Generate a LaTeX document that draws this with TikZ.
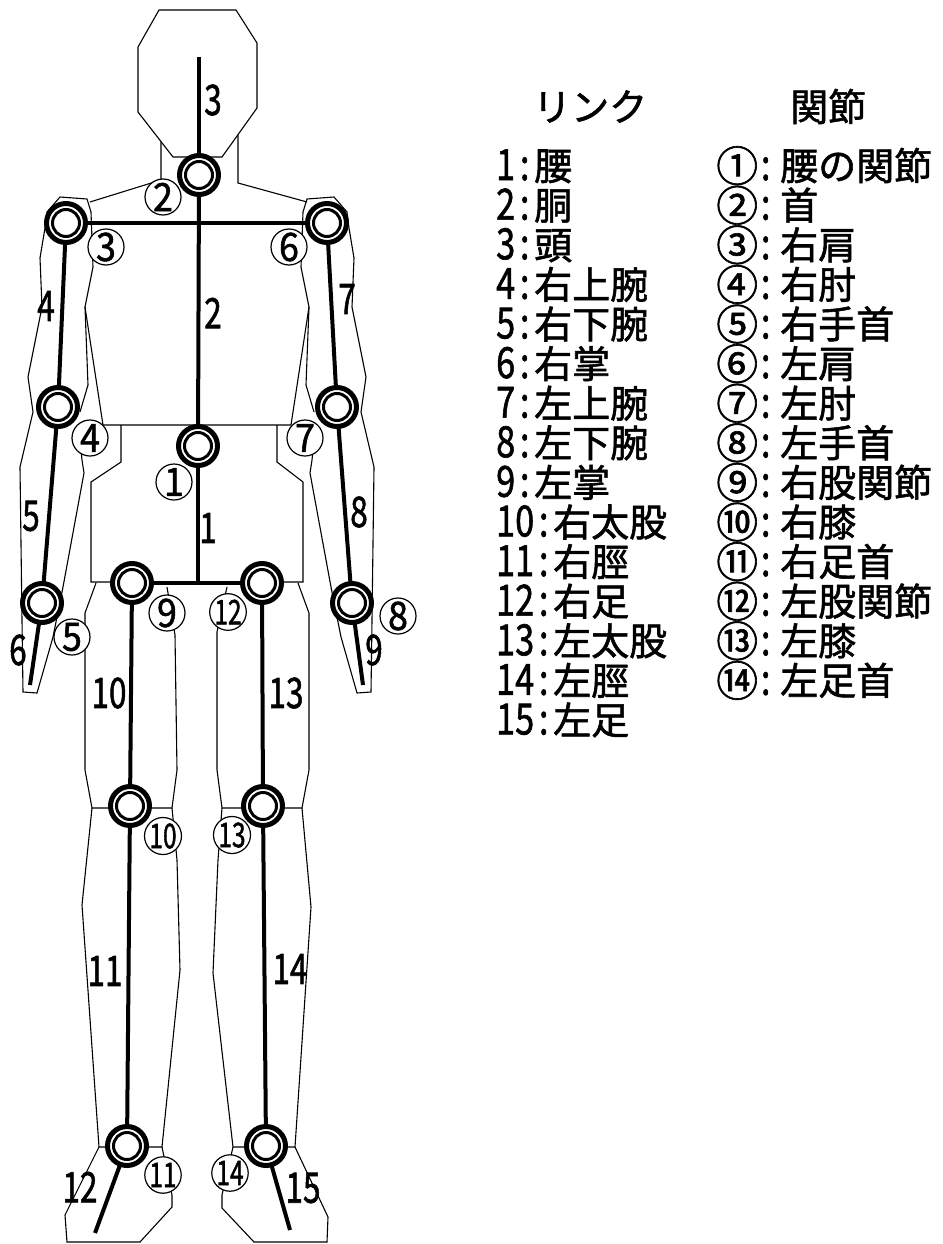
\documentclass[tikz,border=0pt]{standalone}
\usepackage{fontspec}
\usepackage{graphicx}
\setmainfont{Noto Sans CJK JP}[FakeBold=1.5]
% half-width cell with tall, narrow digits (legend)
\newcommand\hw[1]{\makebox[0.5em][c]{\scalebox{0.9}[1.13]{#1}}}
% half-width cell for the link numbers on the figure
\newcommand\hl[1]{\makebox[0.5em][c]{\scalebox{0.9}[1.2]{#1}}}
% two digits squeezed into a circle
\newcommand\dd[1]{\scalebox{0.72}[1.0]{#1}}
% one digit in a circle
\newcommand\sd[1]{\scalebox{1.05}[1.15]{#1}}
% enlarged circled numeral in a full-width cell
\newcommand\cn[1]{\makebox[1em][c]{\raisebox{-0.04em}{\scalebox{1.1}{#1}}}}
\pgfdeclarelayer{bg}
\pgfsetlayers{bg,main}
\begin{document}
\begin{tikzpicture}[x=1pt,y=-1pt,
  outline/.style={line width=1.1pt,line join=miter},
  link/.style={line width=4pt},
  joint/.style={circle,draw,fill=white,line width=5pt,minimum size=39pt,inner sep=0pt,
    path picture={\draw[line width=3pt] (path picture bounding box.center) circle[radius=13.5pt];}},
  linklbl/.style={inner sep=0pt,font=\fontsize{35}{35}\selectfont},
  jointlbl/.style={circle,draw,fill=white,line width=1.2pt,minimum size=36pt,inner sep=0pt,font=\fontsize{34}{34}\selectfont},
  listtxt/.style={anchor=base west,inner sep=0pt,font=\fontsize{38}{38}\selectfont}]
\useasboundingbox (0,0) rectangle (942,1244);

% joints
\node[joint] (j2) at (199,175) {};
\node[joint] (j3) at (66,223) {};
\node[joint] (j6) at (327,223) {};
\node[joint] (j4) at (58,407) {};
\node[joint] (j7) at (337,407) {};
\node[joint] (j1) at (198,446) {};
\node[joint] (j5) at (42,603) {};
\node[joint] (j8) at (352,603) {};
\node[joint] (j9) at (132,583) {};
\node[joint] (j12) at (262,583) {};
\node[joint] (j10) at (130,806) {};
\node[joint] (j13) at (263,806) {};
\node[joint] (j11) at (127,1146) {};
\node[joint] (j14) at (266,1146) {};

% free ends of the end links
\coordinate (headtop) at (199,57);
\coordinate (rhand) at (30,685);
\coordinate (lhand) at (363,685);
\coordinate (rfoot) at (95,1233);
\coordinate (lfoot) at (290,1230);

\begin{pgfonlayer}{bg}
% body outline
\draw[outline] (173,157) -- (138,112) -- (138,47) -- (159,10) -- (236,10) -- (257,43) -- (257,108) -- (222,157) -- cycle;
\draw[outline] (161,142) -- (161,180) -- (90,202);
\draw[outline] (238,135) -- (238,183) -- (307,202);
% right arm (viewer's left)
\draw[outline] (91,212) -- (87,199) -- (60,197) -- (47,212) -- (45,228) -- (40,258) -- (42,307) -- (28,377) -- (33,412)
  -- (20,467) -- (22,620) -- (23,692) -- (37,693) -- (53,637) -- (63,587) -- (84,473) -- (82,460) -- (80,440);
\draw[outline] (91,212) -- (93,267) -- (85,307) -- (88,385) -- (80,412);
% left arm (viewer's right)
\draw[outline] (303,212) -- (307,199) -- (334,197) -- (347,212) -- (349,228) -- (354,258) -- (352,307) -- (366,377) -- (361,412)
  -- (374,467) -- (372,620) -- (371,692) -- (357,693) -- (341,637) -- (331,587) -- (310,473) -- (312,460) -- (314,440);
\draw[outline] (303,212) -- (301,267) -- (309,307) -- (306,385) -- (314,412);
% chest and pelvis
\draw[outline] (85,307) -- (103,425) -- (291,425) -- (309,307);
\draw[outline] (121,425) -- (121,462) -- (91,482) -- (91,582) -- (112,582);
\draw[outline] (277,425) -- (277,462) -- (303,482) -- (303,582) -- (284,582);
% thighs
\draw[outline] (96,583) -- (85,613) -- (85,770) -- (92,808) -- (172,808) -- (177,770) -- (175,635) -- (167,587);
\draw[outline] (298,583) -- (309,613) -- (309,770) -- (302,808) -- (222,808) -- (217,770) -- (217,632) -- (227,587);
% shins
\draw[outline] (92,808) -- (82,905) -- (99,1147) -- (162,1147) -- (180,970) -- (177,860) -- (172,808);
\draw[outline] (302,808) -- (311,907) -- (295,1147) -- (233,1147) -- (213,973) -- (218,860) -- (222,808);
% feet
\draw[outline] (99,1147) -- (65,1215) -- (67,1242) -- (140,1242) -- (172,1207) -- (172,1195) -- (162,1147);
\draw[outline] (295,1147) -- (328,1217) -- (327,1242) -- (254,1242) -- (222,1208) -- (222,1195) -- (233,1147);

% links
\draw[link] (headtop) -- (j2.center);
\draw[link] (j2.center) -- (j1.center);
\draw[link] (j3.center) -- (j6.center);
\draw[link] (j1.center) -- (j1.center |- j9.center);
\draw[link] (j9.center) -- (j12.center);
\draw[link] (j3.center) -- (j4.center) -- (j5.center) -- (rhand);
\draw[link] (j6.center) -- (j7.center) -- (j8.center) -- (lhand);
\draw[link] (j9.center) -- (j10.center) -- (j11.center) -- (rfoot);
\draw[link] (j12.center) -- (j13.center) -- (j14.center) -- (lfoot);
\end{pgfonlayer}

% link numbers
\node[linklbl] (t1) at (208,528) {\hl{1}};
\node[linklbl] (t2) at (213,313) {\hl{2}};
\node[linklbl] (t3) at (213,100) {\hl{3}};
\node[linklbl] (t4) at (46,306) {\hl{4}};
\node[linklbl] (t5) at (31,516) {\hl{5}};
\node[linklbl] (t6) at (18,650) {\hl{6}};
\node[linklbl] (t7) at (347,299) {\hl{7}};
\node[linklbl] (t8) at (359,512) {\hl{8}};
\node[linklbl] (t9) at (374,650) {\hl{9}};
\node[linklbl] (t10) at (109,693) {\hl{1}\hl{0}};
\node[linklbl] (t11) at (105,971) {\hl{1}\hl{1}};
\node[linklbl] (t12) at (80,1187) {\hl{1}\hl{2}};
\node[linklbl] (t13) at (286,693) {\hl{1}\hl{3}};
\node[linklbl] (t14) at (290,969) {\hl{1}\hl{4}};
\node[linklbl] (t15) at (303,1188) {\hl{1}\hl{5}};

% joint numbers
\node[jointlbl] (c1) at (174,482) {\sd{1}};
\node[jointlbl] (c2) at (163,197) {\sd{2}};
\node[jointlbl] (c3) at (106,247) {\sd{3}};
\node[jointlbl] (c4) at (90,438) {\sd{4}};
\node[jointlbl] (c5) at (72,637) {\sd{5}};
\node[jointlbl] (c6) at (289,247) {\sd{6}};
\node[jointlbl] (c7) at (305,438) {\sd{7}};
\node[jointlbl] (c8) at (398,616) {\sd{8}};
\node[jointlbl] (c9) at (167,613) {\sd{9}};
\node[jointlbl] (c10) at (163,836) {\dd{10}};
\node[jointlbl] (c11) at (163,1175) {\dd{11}};
\node[jointlbl] (c12) at (228,612) {\dd{12}};
\node[jointlbl] (c13) at (232,835) {\dd{13}};
\node[jointlbl] (c14) at (230,1173) {\dd{14}};

% legend
\node[listtxt] (hl) at (533,121) {リンク};
\node[listtxt] (hj) at (790,121) {関節};

\node[listtxt] (l1) at (496,180) {\hw{1}\hw{:}腰};
\node[listtxt] (l2) at (496,219.6) {\hw{2}\hw{:}胴};
\node[listtxt] (l3) at (496,259.2) {\hw{3}\hw{:}頭};
\node[listtxt] (l4) at (496,298.8) {\hw{4}\hw{:}右上腕};
\node[listtxt] (l5) at (496,338.4) {\hw{5}\hw{:}右下腕};
\node[listtxt] (l6) at (496,378) {\hw{6}\hw{:}右掌};
\node[listtxt] (l7) at (496,417.6) {\hw{7}\hw{:}左上腕};
\node[listtxt] (l8) at (496,457.2) {\hw{8}\hw{:}左下腕};
\node[listtxt] (l9) at (496,496.8) {\hw{9}\hw{:}左掌};
\node[listtxt] (l10) at (496,536.4) {\hw{1}\hw{0}\hw{:}右太股};
\node[listtxt] (l11) at (496,576) {\hw{1}\hw{1}\hw{:}右脛};
\node[listtxt] (l12) at (496,615.6) {\hw{1}\hw{2}\hw{:}右足};
\node[listtxt] (l13) at (496,655.2) {\hw{1}\hw{3}\hw{:}左太股};
\node[listtxt] (l14) at (496,694.8) {\hw{1}\hw{4}\hw{:}左脛};
\node[listtxt] (l15) at (496,734.4) {\hw{1}\hw{5}\hw{:}左足};

\node[listtxt] (r1) at (718,180) {\cn{①}\hw{:}\kern5pt腰の関節};
\node[listtxt] (r2) at (718,219.6) {\cn{②}\hw{:}\kern5pt首};
\node[listtxt] (r3) at (718,259.2) {\cn{③}\hw{:}\kern5pt右肩};
\node[listtxt] (r4) at (718,298.8) {\cn{④}\hw{:}\kern5pt右肘};
\node[listtxt] (r5) at (718,338.4) {\cn{⑤}\hw{:}\kern5pt右手首};
\node[listtxt] (r6) at (718,378) {\cn{⑥}\hw{:}\kern5pt左肩};
\node[listtxt] (r7) at (718,417.6) {\cn{⑦}\hw{:}\kern5pt左肘};
\node[listtxt] (r8) at (718,457.2) {\cn{⑧}\hw{:}\kern5pt左手首};
\node[listtxt] (r9) at (718,496.8) {\cn{⑨}\hw{:}\kern5pt右股関節};
\node[listtxt] (r10) at (718,536.4) {\cn{⑩}\hw{:}\kern5pt右膝};
\node[listtxt] (r11) at (718,576) {\cn{⑪}\hw{:}\kern5pt右足首};
\node[listtxt] (r12) at (718,615.6) {\cn{⑫}\hw{:}\kern5pt左股関節};
\node[listtxt] (r13) at (718,655.2) {\cn{⑬}\hw{:}\kern5pt左膝};
\node[listtxt] (r14) at (718,694.8) {\cn{⑭}\hw{:}\kern5pt左足首};
\end{tikzpicture}
\end{document}
